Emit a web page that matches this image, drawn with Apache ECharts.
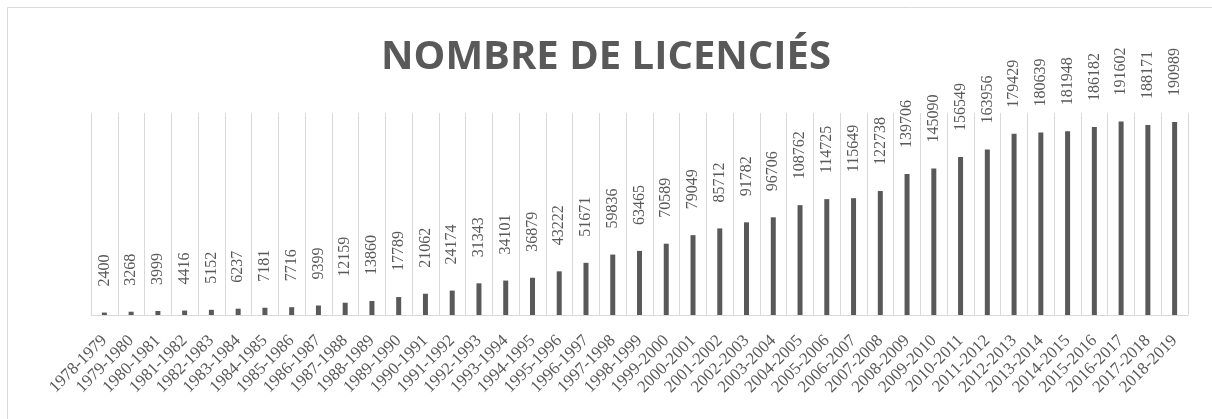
<!DOCTYPE html>
<html>
<head>
<meta charset="utf-8">
<script src="https://cdn.jsdelivr.net/npm/echarts@6/dist/echarts.min.js"></script>
<style>
  html, body { margin: 0; padding: 0; background: #fff; }
  #chart { width: 1212px; height: 419px; }
</style>
</head>
<body>
<div id="chart"></div>
<script>
var seasons = ['1978-1979', '1979-1980', '1980-1981', '1981-1982', '1982-1983', '1983-1984',
  '1984-1985', '1985-1986', '1986-1987', '1987-1988', '1988-1989', '1989-1990', '1990-1991',
  '1991-1992', '1992-1993', '1993-1994', '1994-1995', '1995-1996', '1996-1997', '1997-1998',
  '1998-1999', '1999-2000', '2000-2001', '2001-2002', '2002-2003', '2003-2004', '2004-2005',
  '2005-2006', '2006-2007', '2007-2008', '2008-2009', '2009-2010', '2010-2011', '2011-2012',
  '2012-2013', '2013-2014', '2014-2015', '2015-2016', '2016-2017', '2017-2018', '2018-2019'];

var licencies = [2400, 3268, 3999, 4416, 5152, 6237, 7181, 7716, 9399, 12159, 13860, 17789,
  21062, 24174, 31343, 34101, 36879, 43222, 51671, 59836, 63465, 70589, 79049, 85712, 91782,
  96706, 108762, 114725, 115649, 122738, 139706, 145090, 156549, 163956, 179429, 180639,
  181948, 186182, 191602, 188171, 190989];

var serif = "'Liberation Serif', 'DejaVu Serif', serif";

var chart = echarts.init(document.getElementById('chart'));

var option = {
  backgroundColor: '#fff',
  animation: false,
  title: {
    text: 'NOMBRE DE LICENCIÉS',
    left: 'center',
    top: 33,
    textStyle: {
      fontFamily: "'Open Sans', sans-serif",
      fontWeight: 'bold',
      fontSize: 40,
      color: '#595959'
    }
  },
  graphic: [{
    type: 'rect',
    shape: { x: 7.5, y: 7.5, width: 1230, height: 430 },
    style: { fill: 'none', stroke: '#d9d9d9', lineWidth: 1 },
    silent: true
  }],
  grid: {
    left: 91,
    right: 24,
    top: 113,
    bottom: 104
  },
  xAxis: {
    type: 'category',
    data: seasons,
    axisLine: { lineStyle: { color: '#d9d9d9', width: 1 } },
    axisTick: { show: false },
    splitLine: {
      show: true,
      interval: 0,
      lineStyle: { color: '#d9d9d9', width: 1 }
    },
    axisLabel: {
      interval: 0,
      rotate: 45,
      margin: 23,
      fontFamily: serif,
      fontSize: 17,
      color: '#595959'
    }
  },
  yAxis: {
    type: 'value',
    min: 0,
    max: 200000,
    show: false,
    splitLine: { show: false }
  },
  series: [{
    type: 'bar',
    data: licencies,
    barWidth: 5,
    itemStyle: { color: '#595959' },
    label: {
      show: true,
      position: 'top',
      rotate: 90,
      align: 'left',
      verticalAlign: 'middle',
      distance: 26,
      fontFamily: serif,
      fontSize: 16,
      color: '#595959'
    }
  }]
};

chart.setOption(option);
</script>
</body>
</html>
